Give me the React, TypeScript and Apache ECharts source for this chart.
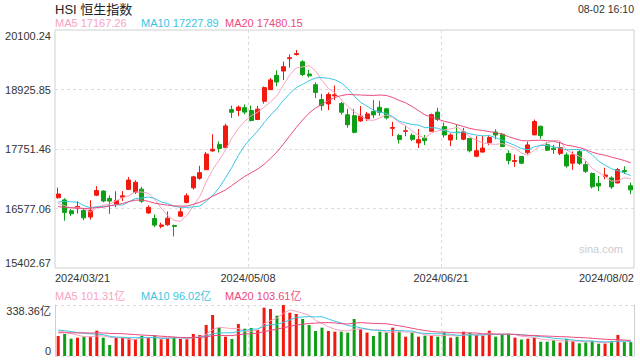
import React, { useEffect, useRef } from 'react';
import * as echarts from 'echarts';

const dates = [
  '2024/03/21', '2024/03/22', '2024/03/25', '2024/03/26', '2024/03/27', '2024/03/28',
  '2024/04/02', '2024/04/03', '2024/04/05', '2024/04/08', '2024/04/09', '2024/04/10', '2024/04/11', '2024/04/12',
  '2024/04/15', '2024/04/16', '2024/04/17', '2024/04/18', '2024/04/19', '2024/04/22', '2024/04/23', '2024/04/24',
  '2024/04/25', '2024/04/26', '2024/04/29', '2024/04/30',
  '2024/05/02', '2024/05/03', '2024/05/06', '2024/05/07', '2024/05/08', '2024/05/09', '2024/05/10', '2024/05/13',
  '2024/05/14', '2024/05/16', '2024/05/17', '2024/05/20', '2024/05/21', '2024/05/22', '2024/05/23', '2024/05/24',
  '2024/05/27', '2024/05/28', '2024/05/29', '2024/05/30', '2024/05/31',
  '2024/06/03', '2024/06/04', '2024/06/05', '2024/06/06', '2024/06/07', '2024/06/11', '2024/06/12', '2024/06/13',
  '2024/06/14', '2024/06/17', '2024/06/18', '2024/06/19', '2024/06/20', '2024/06/21', '2024/06/24', '2024/06/25',
  '2024/06/26', '2024/06/27', '2024/06/28',
  '2024/07/02', '2024/07/03', '2024/07/04', '2024/07/05', '2024/07/08', '2024/07/09', '2024/07/10', '2024/07/11',
  '2024/07/12', '2024/07/15', '2024/07/16', '2024/07/17', '2024/07/18', '2024/07/19', '2024/07/22', '2024/07/23',
  '2024/07/24', '2024/07/25', '2024/07/26', '2024/07/29', '2024/07/30', '2024/07/31',
  '2024/08/01', '2024/08/02',
];

const opens = [
  16790, 16747, 16532, 16585, 16537, 16410, 16840, 16922, 16777, 16668,
  16800, 16954, 16898, 16959, 16488, 16380, 16225, 16255, 16240, 16425,
  16697, 16985, 17172, 17341, 17714, 17842, 17779, 18529, 18512, 18566,
  18512, 18334, 18694, 18923, 19206, 19290, 19535, 19616, 19473, 19230,
  19021, 18727, 18640, 18801, 18649, 18427, 18410, 18304, 18345, 18490,
  18575, 18545, 18160, 18017, 18100, 18021, 17870, 17962, 18101, 18480,
  18194, 17929, 18085, 17945, 17961, 17608, 17690, 17874, 18087, 18044,
  17662, 17505, 17604, 17680, 18030, 18200, 17835, 17767, 17665, 17635,
  17472, 17699, 17443, 17267, 17074, 17211, 17181, 17081, 17325, 17025,
];

const closes = [
  16863.10, 16499.47, 16473.64, 16618.32, 16392.84, 16541.42, 16931.52, 16725.10, 16723.92, 16732.85,
  16828.07, 17139.17, 17095.03, 16721.69, 16600.46, 16248.97, 16251.84, 16385.87, 16224.14, 16511.69,
  16828.93, 17201.27, 17284.54, 17651.15, 17746.91, 17763.03, 18207.13, 18475.92, 18578.30, 18479.37,
  18313.86, 18537.81, 18963.68, 19115.06, 19073.71, 19376.53, 19553.61, 19636.22, 19221.64, 19195.60,
  18868.71, 18608.94, 18827.35, 18821.16, 18477.01, 18230.18, 18079.61, 18403.04, 18444.11, 18424.96,
  18475.88, 18366.95, 18176.34, 17937.84, 18112.63, 17941.78, 17936.12, 17915.55, 18430.39, 18335.32,
  18028.52, 18027.71, 18072.90, 18089.93, 17716.47, 17718.61, 17769.14, 17978.57, 18028.28, 17799.61,
  17524.06, 17523.23, 17471.67, 17832.33, 18293.38, 18015.94, 17727.98, 17739.41, 17778.41, 17417.68,
  17635.88, 17469.36, 17311.05, 17004.97, 17021.31, 17238.34, 17002.91, 17344.60, 17304.96, 16945.51,
];

const highs = [
  16990, 16780, 16566, 16717, 16577, 16740, 17018, 16935, 16836, 16918,
  16921, 17198, 17134, 17005, 16640, 16459, 16298, 16518, 16260, 16596,
  16875, 17221, 17420, 17691, 18043, 17901, 18252, 18608, 18610, 18631,
  18610, 18605, 18984, 19154, 19305, 19476, 19620, 19706, 19504, 19315,
  19066, 18839, 18867, 19005, 18682, 18545, 18542, 18600, 18483, 18721,
  18705, 18565, 18289, 18050, 18200, 18061, 18147, 18028, 18450, 18565,
  18273, 18061, 18225, 18169, 17961, 18003, 18012, 18024, 18141, 18070,
  17727, 17642, 17610, 17897, 18333, 18210, 17886, 17832, 17896, 17681,
  17702, 17732, 17508, 17287, 17218, 17382, 17213, 17377, 17410, 17091,
];

const lows = [
  16770, 16335, 16430, 16480, 16346, 16357, 16820, 16700, 16470, 16602,
  16724, 16942, 16864, 16689, 16474, 16210, 16186, 16235, 16026, 16412,
  16678, 16951, 17146, 17335, 17700, 17683, 17769, 18365, 18400, 18434,
  18294, 18321, 18648, 18917, 18989, 19113, 19358, 19596, 19189, 19163,
  18758, 18510, 18518, 18722, 18432, 18170, 18060, 18291, 18305, 18359,
  18410, 18334, 18005, 17860, 18002, 17909, 17772, 17830, 18100, 18302,
  17976, 17810, 17929, 17925, 17684, 17589, 17685, 17827, 17943, 17794,
  17445, 17399, 17453, 17647, 18025, 17951, 17712, 17654, 17632, 17385,
  17340, 17436, 17278, 16971, 16922, 17152, 16964, 17075, 17258, 16861,
];

// turnover, 亿
const volumes = [
  132.7, 146, 115, 121.6, 128, 128, 168, 121.6, 73, 121.6,
  121.6, 117, 113, 133, 121.6, 137, 111, 117, 121.6, 113,
  111, 146, 139, 206, 272, 188, 128, 113, 212, 181,
  186, 172.5, 320.6, 312, 267.6, 338.36, 287.5, 278.7, 245.5, 205.7,
  166, 188, 166, 161.5, 161.5, 154.8, 245.5, 177, 155, 133,
  161.5, 157, 188, 161.5, 128, 155, 128, 135, 135, 128,
  157, 121.6, 128, 161.5, 155, 139, 135, 168, 128, 144,
  148, 122, 109, 115, 121, 95, 95, 104, 89, 114,
  97, 84, 90, 101, 81.65, 82.55, 100, 140, 92, 92,
];

// sessions before the first visible day, used to warm up the moving averages
const priorCloses = [
  16725.86, 16634.74, 16790.80, 16536.85, 16511.44, 16589.44, 16595.97, 16162.64, 16438.09, 16229.78,
  16353.39, 16587.69, 16672.05, 17082.11, 16961.64, 16720.89, 16737.11, 16529.48, 16543.07,
];
const priorVolumes = [
  128, 142, 131, 120, 150, 138, 145, 126, 148, 132,
  185, 172, 190, 168, 175, 180, 165, 178, 174,
];

const priceTicks = [15402.67, 16577.06, 17751.46, 18925.85, 20100.24];
const volumeTicks = [0, 338.36];
const dateTickEvery = 30;

const titleText = 'HSI 恒生指数';
const timeText = '08-02 16:10';
const priceLegend = ['MA5 17167.26', 'MA10 17227.89', 'MA20 17480.15'];
const volumeLegend = ['MA5 101.31亿', 'MA10 96.02亿', 'MA20 103.61亿'];

const UP = '#f2190f';
const DOWN = '#0e9f17';
const MA_COLORS = ['#f8a3bf', '#3cc5e3', '#ec4a7e'];
const FONT = 'Arial, "Liberation Sans", "Noto Sans CJK SC", sans-serif';

function movingAverage(prior: number[], values: number[], n: number): number[] {
  const all = prior.concat(values);
  return values.map((_, i) => {
    const end = prior.length + i;
    let s = 0;
    for (let k = end - n + 1; k <= end; k++) s += all[k];
    return +(s / n).toFixed(2);
  });
}

export default function App() {
  const ref = useRef<HTMLDivElement>(null);

  useEffect(() => {
    document.body.style.margin = '0';
    if (!ref.current) return;
    const chart = echarts.init(ref.current, undefined, { renderer: 'svg' });

    const candles = dates.map((_, i) => [opens[i], closes[i], lows[i], highs[i]]);
    const volBars = volumes.map((v, i) => ({
      value: v,
      itemStyle: { color: closes[i] >= opens[i] ? UP : DOWN },
    }));
    const maN = [5, 10, 20];
    const priceMA = maN.map((n) => movingAverage(priorCloses, closes, n));
    const volMA = maN.map((n) => movingAverage(priorVolumes, volumes, n));

    const legendX = [55, 141, 225];
    const textEl = (text: string, x: number, y: number, size: number, fill: string, align = 'left') => ({
      type: 'text',
      x,
      y,
      silent: true,
      style: { text, fill, fontSize: size, fontFamily: FONT, align, verticalAlign: 'middle' },
    });

    const pMin = priceTicks[0];
    const pMax = priceTicks[priceTicks.length - 1];
    const dashed = { color: '#dcdcdc', width: 1, type: [3, 3] };

    const option: any = {
      animation: false,
      backgroundColor: '#ffffff',
      textStyle: { fontFamily: FONT },
      grid: [
        { left: 55, right: 6, top: 30, height: 238, show: true, borderColor: '#cfcfcf', borderWidth: 1, backgroundColor: 'transparent' },
        { left: 55, right: 6, top: 305, height: 51, show: false },
      ],
      xAxis: [
        {
          type: 'category', gridIndex: 0, data: dates, boundaryGap: true,
          axisLine: { show: false }, axisTick: { show: false }, axisLabel: { show: false }, splitLine: { show: false },
        },
        {
          type: 'value', gridIndex: 0, min: 0, max: dates.length, interval: dateTickEvery, position: 'bottom',
          axisLine: { show: false }, axisTick: { show: false },
          axisLabel: {
            show: true, fontSize: 11, color: '#333', margin: 4, fontFamily: FONT,
            formatter: (v: number) => dates[Math.min(Math.round(v), dates.length - 1)],
            alignMinLabel: 'left', alignMaxLabel: 'right',
          },
          splitLine: { show: true, showMinLine: false, showMaxLine: false, lineStyle: dashed },
        },
        {
          type: 'category', gridIndex: 1, data: dates, boundaryGap: true,
          axisLine: { show: false }, axisTick: { show: false }, axisLabel: { show: false }, splitLine: { show: false },
        },
        {
          type: 'value', gridIndex: 1, min: 0, max: dates.length, interval: dateTickEvery,
          axisLine: { show: false }, axisTick: { show: false }, axisLabel: { show: false },
          splitLine: { show: true, showMinLine: false, showMaxLine: false, lineStyle: dashed },
        },
      ],
      yAxis: [
        {
          type: 'value', gridIndex: 0, min: pMin, max: pMax, interval: (pMax - pMin) / (priceTicks.length - 1),
          axisLine: { show: false }, axisTick: { show: false },
          axisLabel: {
            fontSize: 11, color: '#333', margin: 4, fontFamily: FONT,
            formatter: (v: number, idx: number) => (priceTicks[idx] !== undefined ? priceTicks[idx] : v).toFixed(2),
            verticalAlignMinLabel: 'bottom', verticalAlignMaxLabel: 'top',
          },
          splitLine: { show: true, showMinLine: false, showMaxLine: false, lineStyle: dashed },
        },
        {
          type: 'value', gridIndex: 1, min: volumeTicks[0], max: volumeTicks[1], interval: volumeTicks[1] - volumeTicks[0],
          axisLine: { show: true, lineStyle: { color: '#cfcfcf' } }, axisTick: { show: false },
          axisLabel: {
            fontSize: 11, color: '#333', margin: 4, fontFamily: FONT,
            formatter: (v: number) => (v === 0 ? '0' : v.toFixed(2) + '亿'),
            verticalAlignMinLabel: 'bottom', verticalAlignMaxLabel: 'top',
          },
          splitLine: { show: true, lineStyle: dashed },
        },
        {
          type: 'value', gridIndex: 1, position: 'right', min: volumeTicks[0], max: volumeTicks[1],
          axisLine: { show: true, lineStyle: { color: '#cfcfcf' } }, axisTick: { show: false },
          axisLabel: { show: false }, splitLine: { show: false },
        },
      ],
      series: [
        {
          type: 'candlestick', xAxisIndex: 0, yAxisIndex: 0, data: candles, barWidth: '70%',
          itemStyle: { color: UP, color0: DOWN, borderColor: UP, borderColor0: DOWN, borderWidth: 1 },
        },
        ...priceMA.map((d, k) => ({
          type: 'line', xAxisIndex: 0, yAxisIndex: 0, data: d, symbol: 'none', silent: true,
          lineStyle: { color: MA_COLORS[k], width: 1 },
        })),
        {
          type: 'bar', xAxisIndex: 2, yAxisIndex: 1, data: volBars, barWidth: 3,
        },
        ...volMA.map((d, k) => ({
          type: 'line', xAxisIndex: 2, yAxisIndex: 1, data: d, symbol: 'none', silent: true,
          lineStyle: { color: MA_COLORS[k], width: 1 },
        })),
      ],
      graphic: [
        textEl(titleText, 55, 9, 13, '#222'),
        textEl(timeText, 634, 9, 10.5, '#333', 'right'),
        ...priceLegend.map((t, k) => textEl(t, legendX[k], 23, 11, MA_COLORS[k])),
        ...volumeLegend.map((t, k) => textEl(t, legendX[k], 296, 11, MA_COLORS[k])),
        textEl('sina.com', 623, 249, 11, '#cccccc', 'right'),
      ],
    };

    chart.setOption(option);
    return () => chart.dispose();
  }, []);

  return (
    <div
      ref={ref}
      style={{ position: 'absolute', left: 0, top: 0, width: 640, height: 360, background: '#fff' }}
    />
  );
}
